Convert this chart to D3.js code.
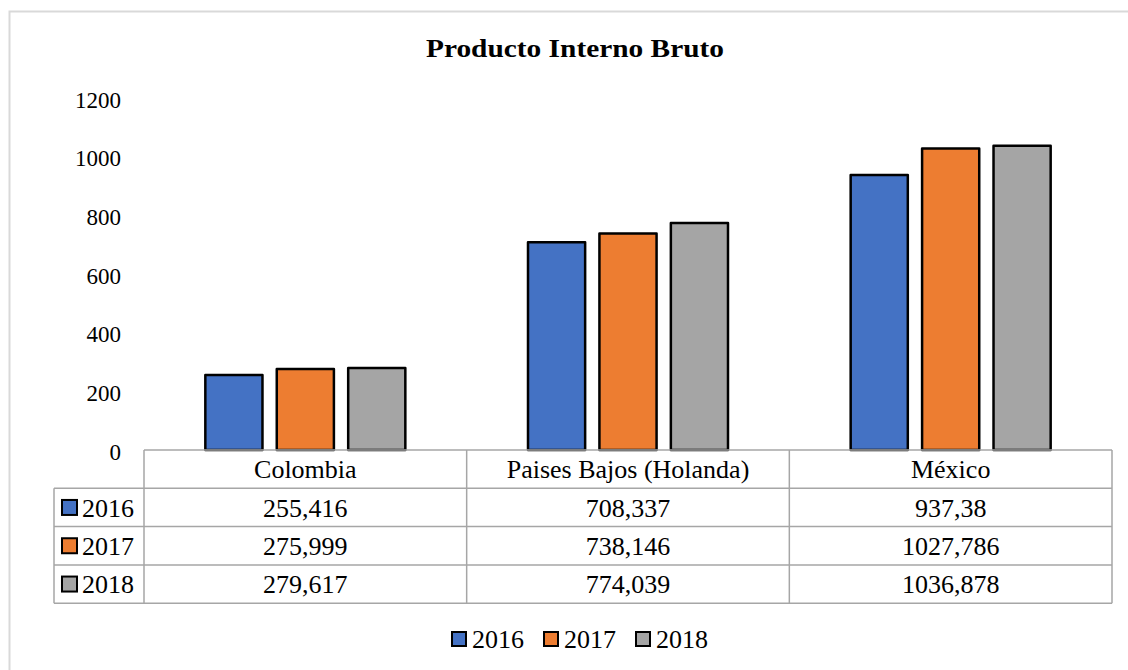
<!DOCTYPE html>
<html>
<head>
<meta charset="utf-8">
<script src="https://cdn.jsdelivr.net/npm/d3@7"></script>
<style>
  body { margin: 0; background: #fff; }
</style>
</head>
<body>
<svg id="chart" width="1128" height="670"></svg>
<script>
// data
var countries = ["Colombia", "Paises Bajos (Holanda)", "México"];
var years = ["2016", "2017", "2018"];
var pib2016 = [255.416, 708.337, 937.38];
var pib2017 = [275.999, 738.146, 1027.786];
var pib2018 = [279.617, 774.039, 1036.878];
var pibLabels = [
  ["255,416", "708,337", "937,38"],
  ["275,999", "738,146", "1027,786"],
  ["279,617", "774,039", "1036,878"]
];
var yTicks = [0, 200, 400, 600, 800, 1000, 1200];
var colors = ["#4472C4", "#ED7D31", "#A5A5A5"];

var series = [pib2016, pib2017, pib2018];
var serif = "'Liberation Serif'";

var svg = d3.select("#chart");

// outer chart frame
svg.append("rect")
  .attr("x", 9.5).attr("y", 11.5)
  .attr("width", 1200).attr("height", 700)
  .attr("fill", "none")
  .attr("stroke", "#d9d9d9")
  .attr("stroke-width", 2);

var plot = { left: 144, right: 1112, top: 98, bottom: 450 };
var rowH = 38.3;
var keyLeft = 54;

var x0 = d3.scaleBand().domain(countries).range([plot.left, plot.right]);
var groupW = 200;
var x1 = d3.scaleBand().domain(years).range([0, groupW]).paddingInner(0.2);
var y = d3.scaleLinear().domain([0, 1200]).range([plot.bottom, plot.top]);

// title
svg.append("text")
  .attr("x", 575).attr("y", 57)
  .attr("text-anchor", "middle")
  .attr("font-family", serif)
  .attr("font-size", 26)
  .attr("font-weight", "bold")
  .attr("textLength", 298)
  .attr("lengthAdjust", "spacingAndGlyphs")
  .text("Producto Interno Bruto");

// y axis
var yAxis = svg.append("g")
  .attr("transform", "translate(121,0)")
  .call(d3.axisLeft(y).tickValues(yTicks).tickSize(0).tickPadding(0).tickFormat(d3.format("d")));
yAxis.attr("font-family", serif).attr("font-size", 23);
yAxis.select(".domain").remove();
yAxis.selectAll("text")
  .attr("font-family", serif)
  .attr("fill", "#000")
  .attr("dy", "0.4em");

// bars
var groups = svg.append("g").selectAll("g")
  .data(countries)
  .join("g")
  .attr("transform", function(d) { return "translate(" + (x0(d) + (x0.bandwidth() - groupW) / 2) + ",0)"; });

groups.selectAll("rect")
  .data(function(d, i) { return years.map(function(yr, j) { return { year: yr, value: series[j][i], k: j }; }); })
  .join("rect")
  .attr("x", function(d) { return x1(d.year); })
  .attr("y", function(d) { return y(d.value); })
  .attr("width", x1.bandwidth())
  .attr("height", function(d) { return plot.bottom - y(d.value); })
  .attr("fill", function(d) { return colors[d.k]; })
  .attr("stroke", "#000")
  .attr("stroke-width", 2.5)
  .attr("stroke-linejoin", "round");

// data table
var table = svg.append("g");
var lineColor = "#a6a6a6";
var tBottom = plot.bottom + rowH * 4;

// horizontal lines
table.append("line")
  .attr("x1", plot.left).attr("x2", plot.right)
  .attr("y1", plot.bottom).attr("y2", plot.bottom);
for (var r = 1; r <= 4; r++) {
  table.append("line")
    .attr("x1", keyLeft).attr("x2", plot.right)
    .attr("y1", plot.bottom + rowH * r).attr("y2", plot.bottom + rowH * r);
}
// vertical lines
table.append("line")
  .attr("x1", keyLeft).attr("x2", keyLeft)
  .attr("y1", plot.bottom + rowH).attr("y2", tBottom);
countries.forEach(function(c) {
  table.append("line")
    .attr("x1", x0(c)).attr("x2", x0(c))
    .attr("y1", plot.bottom).attr("y2", tBottom);
});
table.append("line")
  .attr("x1", plot.right).attr("x2", plot.right)
  .attr("y1", plot.bottom).attr("y2", tBottom);
table.selectAll("line").attr("stroke", lineColor).attr("stroke-width", 1.5);

// header
table.selectAll("text.head")
  .data(countries)
  .join("text")
  .attr("class", "head")
  .attr("x", function(d) { return x0(d) + x0.bandwidth() / 2; })
  .attr("y", plot.bottom + rowH / 2)
  .attr("dy", "0.35em")
  .attr("text-anchor", "middle")
  .attr("font-family", serif)
  .attr("font-size", 26)
  .text(function(d) { return d; });

// rows
years.forEach(function(yr, j) {
  var cy = plot.bottom + rowH * (j + 1) + rowH / 2;
  table.append("rect")
    .attr("x", 62).attr("y", cy - 7.5)
    .attr("width", 15).attr("height", 15)
    .attr("fill", colors[j])
    .attr("stroke", "#000").attr("stroke-width", 2);
  table.append("text")
    .attr("x", 82).attr("y", cy)
    .attr("dy", "0.35em")
    .attr("font-family", serif)
    .attr("font-size", 26)
    .text(yr);
  countries.forEach(function(c, i) {
    table.append("text")
      .attr("x", x0(c) + x0.bandwidth() / 2)
      .attr("y", cy)
      .attr("dy", "0.35em")
      .attr("text-anchor", "middle")
      .attr("font-family", serif)
      .attr("font-size", 26)
      .text(pibLabels[j][i]);
  });
});

// legend
var legendX = [452, 544, 636];
var legend = svg.append("g")
  .selectAll("g")
  .data(years)
  .join("g")
  .attr("transform", function(d, i) { return "translate(" + legendX[i] + ",639)"; });
legend.append("rect")
  .attr("x", 0).attr("y", -7)
  .attr("width", 14).attr("height", 14)
  .attr("fill", function(d, i) { return colors[i]; })
  .attr("stroke", "#000").attr("stroke-width", 2);
legend.append("text")
  .attr("x", 20).attr("y", 0)
  .attr("dy", "0.35em")
  .attr("font-family", serif)
  .attr("font-size", 26)
  .text(function(d) { return d; });
</script>
</body>
</html>
